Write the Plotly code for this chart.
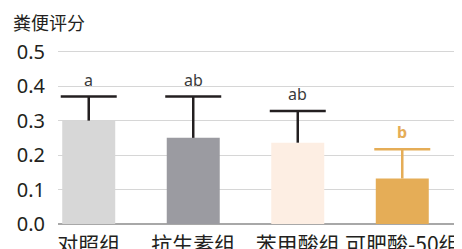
import plotly.graph_objects as go

categories = ["对照组", "抗生素组", "苯甲酸组", "可肥酸-50组"]
values = [0.30, 0.25, 0.236, 0.132]
errors = [0.07, 0.12, 0.092, 0.085]
letters = ["a", "ab", "ab", "<b>b</b>"]
bar_colors = ["#d7d7d7", "#9b9ba1", "#fdeee3", "#e5ad57"]
err_colors = ["#231f20", "#231f20", "#231f20", "#e5ad57"]
letter_colors = ["#3a3a3a", "#3a3a3a", "#3a3a3a", "#e5ad57"]
y_ticks = [0.0, 0.1, 0.2, 0.3, 0.4, 0.5]
y_title = "粪便评分"

fig = go.Figure()
fig.add_trace(go.Bar(
    x=categories, y=values,
    marker=dict(color=bar_colors, line=dict(width=0)),
    width=0.507, showlegend=False,
))
for i, cat in enumerate(categories):
    top = values[i] + errors[i]
    # stem
    fig.add_trace(go.Scatter(
        x=[cat], y=[values[i] + errors[i] / 2], mode="markers",
        marker=dict(size=1, opacity=0),
        error_y=dict(type="data", array=[errors[i] / 2], color=err_colors[i],
                     thickness=2.5, width=0),
        showlegend=False, hoverinfo="skip",
    ))
    # cap
    fig.add_trace(go.Scatter(
        x=[cat], y=[top], mode="markers",
        marker=dict(symbol="line-ew", size=40,
                    line=dict(width=2.5, color=err_colors[i])),
        showlegend=False, hoverinfo="skip",
    ))
    fig.add_annotation(
        x=cat, y=top, text=letters[i], showarrow=False,
        yshift=17, font=dict(size=16, color=letter_colors[i],
                             family="Noto Sans, sans-serif"),
    )

fig.add_annotation(
    xref="paper", yref="paper", x=-0.107, y=1.161, xanchor="left", yanchor="middle",
    xshift=-3, text=y_title, showarrow=False,
    font=dict(size=18, color="#231f20", family="Noto Sans CJK SC"),
)

fig.update_layout(
    width=462, height=249,
    margin=dict(l=50, r=0, t=42, b=33),
    paper_bgcolor="white", plot_bgcolor="white",
    xaxis=dict(
        type="category", range=[-0.294, 3.648],
        showgrid=False, showline=False, zeroline=False,
        ticks="", ticklabelstandoff=6, automargin=False,
        tickfont=dict(size=21, color="#231f20", family="Noto Sans CJK SC"),
    ),
    yaxis=dict(
        range=[0, 0.505], tickvals=y_ticks, ticktext=[f"{v:.1f}" for v in y_ticks],
        showgrid=True, gridcolor="#d6d6d6", gridwidth=1,
        zeroline=True, zerolinecolor="#a8a8a8", zerolinewidth=1.5,
        showline=False, ticks="", ticklabelstandoff=12, automargin=False,
        tickfont=dict(size=20, color="#231f20", family="Noto Sans, sans-serif"),
    ),
)

fig.write_html("out.html")
